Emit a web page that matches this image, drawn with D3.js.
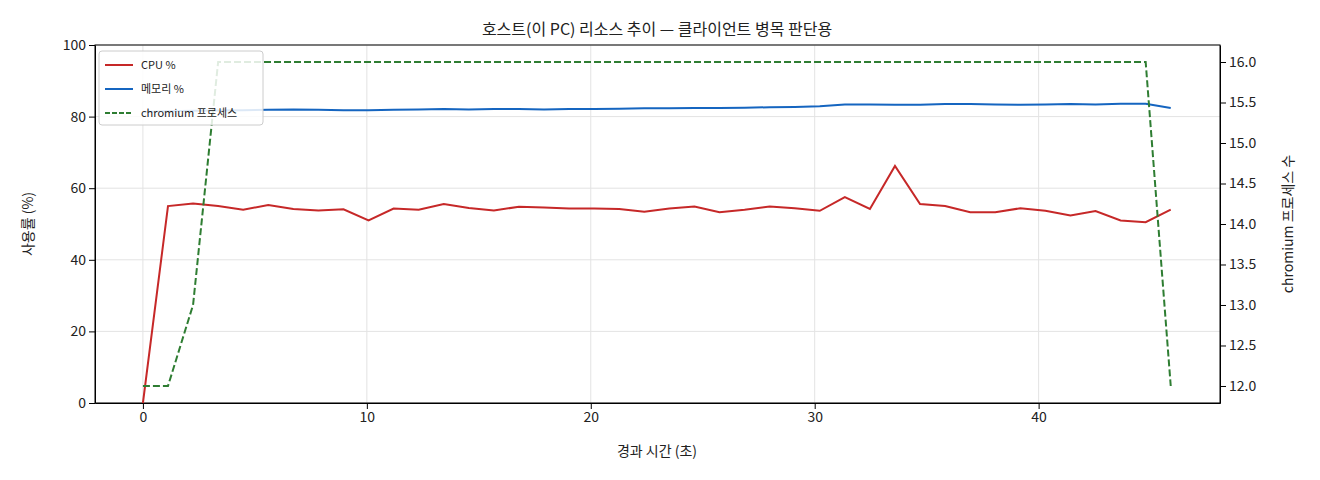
<!DOCTYPE html>
<html><head><meta charset="utf-8">
<script src="https://cdn.jsdelivr.net/npm/d3@7"></script>
<style>body{margin:0;background:#fff;font-family:"Noto Sans CJK KR",sans-serif}</style>
</head><body><svg width="1320" height="480"></svg>
<script>
// 데이터
const cpu = [0,55.0,55.7,55.0,54.0,55.3,54.2,53.8,54.1,51.0,54.3,54.0,55.6,54.5,53.8,54.8,54.6,54.3,54.3,54.2,53.4,54.3,54.9,53.3,54.0,54.9,54.4,53.7,57.5,54.2,66.2,55.6,55.0,53.3,53.3,54.4,53.7,52.4,53.6,51.0,50.5,54.0]
const mem = [81.3,81.5,81.6,81.7,81.8,81.9,82.0,81.9,81.8,81.8,81.9,82.0,82.1,82.0,82.1,82.1,82.0,82.1,82.1,82.2,82.3,82.3,82.4,82.4,82.5,82.6,82.7,82.9,83.4,83.4,83.3,83.3,83.5,83.5,83.4,83.3,83.4,83.5,83.4,83.6,83.6,82.4]
const chrom = [12,12,13,16,16,16,16,16,16,16,16,16,16,16,16,16,16,16,16,16,16,16,16,16,16,16,16,16,16,16,16,16,16,16,16,16,16,16,16,16,16,12]
const times = cpu.map((d,i) => i * 45.9 / 41)
const yTicks = [0,20,40,60,80,100]
const y2Ticks = [12,12.5,13,13.5,14,14.5,15,15.5,16]

const svg = d3.select('svg')
const L = 95, R = 1220, T = 45, B = 403
const x = d3.scaleLinear().domain([-2.14, 48.1]).range([L, R])
const y = d3.scaleLinear().domain([0, 100]).range([B, T])
const y2 = d3.scaleLinear().domain([11.79, 16.21]).range([B, T])

// 격자
svg.append('g').selectAll('line').data([0,10,20,30,40]).enter().append('line')
  .attr('x1', d => x(d)).attr('x2', d => x(d)).attr('y1', T).attr('y2', B)
  .attr('stroke', '#e3e3e3')
svg.append('g').selectAll('line').data(yTicks).enter().append('line')
  .attr('x1', L).attr('x2', R).attr('y1', d => y(d)).attr('y2', d => y(d))
  .attr('stroke', '#e3e3e3')

const ax = (g) => g.call(s => s.selectAll('text').attr('font-size', 14).attr('fill', '#222').style('font-family', 'Noto Sans CJK KR'))
svg.append('g').attr('transform', `translate(0,${B})`)
  .call(d3.axisBottom(x).tickValues([0,10,20,30,40]).tickSizeOuter(0)).call(ax)
svg.append('g').attr('transform', `translate(${L},0)`)
  .call(d3.axisLeft(y).tickValues(yTicks).tickSizeOuter(0)).call(ax)
svg.append('g').attr('transform', `translate(${R},0)`)
  .call(d3.axisRight(y2).tickValues(y2Ticks).tickFormat(d3.format('.1f')).tickSizeOuter(0)).call(ax)
svg.append('rect').attr('x', L).attr('y', T).attr('width', R - L).attr('height', B - T)
  .attr('fill', 'none').attr('stroke', '#000')

const line = (sc, arr) => d3.line().x((d, i) => x(times[i])).y(d => sc(d))(arr)
svg.append('path').attr('d', line(y, cpu)).attr('fill', 'none').attr('stroke', '#c62828').attr('stroke-width', 2)
svg.append('path').attr('d', line(y, mem)).attr('fill', 'none').attr('stroke', '#1565c0').attr('stroke-width', 2)
svg.append('path').attr('d', line(y2, chrom)).attr('fill', 'none').attr('stroke', '#2e7d32').attr('stroke-width', 2).attr('stroke-dasharray', '7,3')

// 범례
const lg = svg.append('g').attr('transform', 'translate(99,51)')
lg.append('rect').attr('width', 164).attr('height', 74).attr('rx', 3).attr('fill', '#fff').attr('fill-opacity', 0.85).attr('stroke', '#ccc')
const items = [['CPU %', '#c62828', null], ['메모리 %', '#1565c0', null], ['chromium 프로세스', '#2e7d32', '5,2']]
items.forEach((it, i) => {
  const yy = 14 + i * 24
  lg.append('line').attr('x1', 6).attr('x2', 34).attr('y1', yy).attr('y2', yy).attr('stroke', it[1]).attr('stroke-width', 2).attr('stroke-dasharray', it[2])
  lg.append('text').attr('x', 42).attr('y', yy + 4).attr('font-size', 11).attr('fill', '#222').text(it[0])
})

svg.append('text').attr('x', 657).attr('y', 35).attr('text-anchor', 'middle').attr('font-size', 16).attr('fill', '#222').text('호스트(이 PC) 리소스 추이 — 클라이언트 병목 판단용')
svg.append('text').attr('x', 657).attr('y', 456).attr('text-anchor', 'middle').attr('font-size', 14).attr('fill', '#222').text('경과 시간 (초)')
svg.append('text').attr('transform', 'translate(33,224) rotate(-90)').attr('text-anchor', 'middle').attr('font-size', 14).attr('fill', '#222').text('사용률 (%)')
svg.append('text').attr('transform', 'translate(1293,224) rotate(-90)').attr('text-anchor', 'middle').attr('font-size', 14).attr('fill', '#222').text('chromium 프로세스 수')
</script></body></html>
